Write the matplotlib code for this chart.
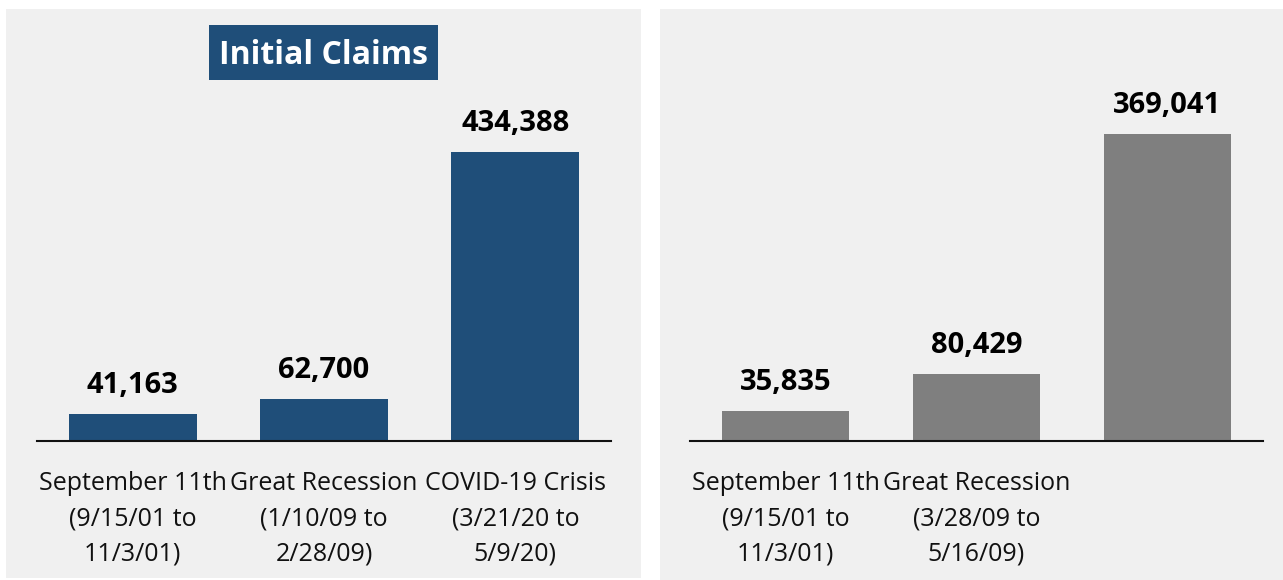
import matplotlib.pyplot as plt
from matplotlib.patches import Rectangle

plt.rcParams['font.family'] = ['Open Sans', 'DejaVu Sans']

# data
left_labels = ['September 11th\n(9/15/01 to\n11/3/01)',
               'Great Recession\n(1/10/09 to\n2/28/09)',
               'COVID-19 Crisis\n(3/21/20 to\n5/9/20)']
left_values = [41163, 62700, 434388]

right_labels = ['September 11th\n(9/15/01 to\n11/3/01)',
                'Great Recession\n(3/28/09 to\n5/16/09)',
                '']
right_values = [35835, 80429, 369041]

title_text = 'Initial Claims'

BLUE = '#1f4e79'
GREY = '#7f7f7f'
PANEL = '#f0f0f0'

W, H = 1283, 580
fig = plt.figure(figsize=(W / 100, H / 100), dpi=100)
fig.patch.set_facecolor('white')

# grey panel backgrounds (pixel coords -> figure fraction)
def px_rect(x0, y0, x1, y1, **kw):
    return Rectangle((x0 / W, 1 - y1 / H), (x1 - x0) / W, (y1 - y0) / H,
                     transform=fig.transFigure, **kw)

fig.add_artist(px_rect(6, 9, 641, 578, facecolor=PANEL, edgecolor='none', zorder=-2))
fig.add_artist(px_rect(660, 9, 1283, 580, facecolor=PANEL, edgecolor='none', zorder=-2))


def draw_panel(ax, labels, values, color, top_px):
    x = range(len(values))
    ax.bar(x, values, width=0.668, color=color, zorder=2)
    ax.set_xlim(-0.5, 2.5)
    # scale so the tallest bar reaches top_px
    ax.set_ylim(0, max(values) * (441 - 60) / (441 - top_px))
    ax.patch.set_visible(False)
    for s in ['top', 'right', 'left']:
        ax.spines[s].set_visible(False)
    ax.spines['bottom'].set_linewidth(1.5)
    ax.spines['bottom'].set_color('#111111')
    ax.set_yticks([])
    ax.set_xticks(list(x))
    ax.set_xticklabels(labels, fontsize=18, linespacing=1.55, color='#111111')
    ax.tick_params(axis='x', length=0, pad=21.5)
    for xi, v in zip(x, values):
        ax.annotate(f'{v:,}', (xi, v), xytext=(0, 10), textcoords='offset points',
                    ha='center', va='bottom', fontsize=21, fontweight='bold',
                    color='black')


ax1 = fig.add_axes([37 / W, 1 - 441 / H, 574 / W, 381 / H])
draw_panel(ax1, left_labels, left_values, BLUE, 152)

ax2 = fig.add_axes([690 / W, 1 - 441 / H, 573 / W, 381 / H])
draw_panel(ax2, right_labels, right_values, GREY, 134)

# title box
fig.add_artist(px_rect(209, 25, 438, 80, facecolor=BLUE, edgecolor='none', zorder=3))
fig.text(323.5 / W, 1 - 55 / H, title_text, ha='center', va='center',
         fontsize=23, fontweight='bold', color='white', zorder=4)

fig.savefig('out.png', dpi=100, facecolor=fig.get_facecolor())
